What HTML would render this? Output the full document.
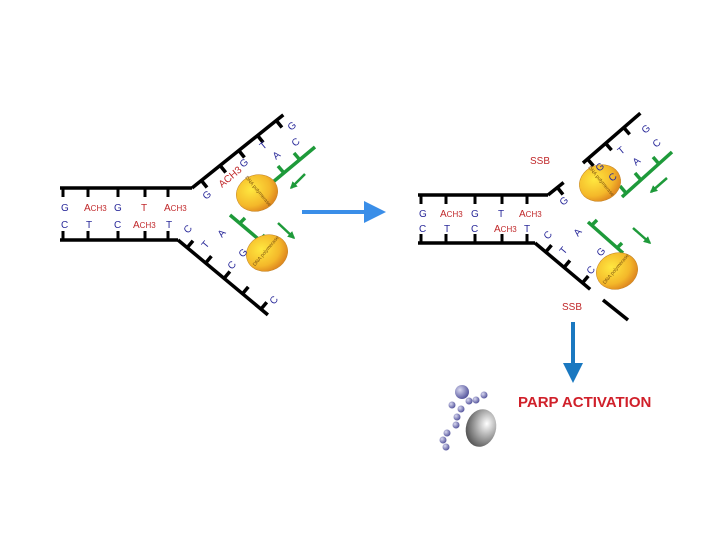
<!DOCTYPE html>
<html><head><meta charset="utf-8"><style>
html,body{margin:0;padding:0;background:#fff;width:720px;height:540px;overflow:hidden}
svg{display:block}
text{font-family:"Liberation Sans",sans-serif}
.b{fill:#2a2a9a;font-size:10px}
.r{fill:#c0282a;font-size:10px}
</style></head><body>
<svg width="720" height="540" viewBox="0 0 720 540">
<defs>
<radialGradient id="el" cx="40%" cy="35%" r="65%"><stop offset="0" stop-color="#ffe840"/><stop offset="0.7" stop-color="#f4b82a"/><stop offset="1" stop-color="#e08a20"/></radialGradient>
<radialGradient id="sp" cx="35%" cy="35%" r="65%"><stop offset="0" stop-color="#d8d8f0"/><stop offset="1" stop-color="#5a5aa0"/></radialGradient>
<radialGradient id="gr" cx="65%" cy="35%" r="70%"><stop offset="0" stop-color="#fff"/><stop offset="1" stop-color="#555"/></radialGradient>
<marker id="ga" viewBox="0 0 10 10" refX="8" refY="5" markerWidth="3" markerHeight="3" orient="auto"><path d="M0 0L10 5L0 10Z" fill="#1e9a3a"/></marker>
</defs>
<g stroke="#000" stroke-width="3.5" fill="none">
<path d="M60 188H192M60 240H178"/>
<path d="M63 188v9M88 188v9M118 188v9M145 188v9M168 188v9M63 240v-9M88 240v-9M118 240v-9M145 240v-9M168 240v-9" stroke-width="3"/>
<g transform="translate(192,188) rotate(-38.7)"><path d="M0 0H117M12 0v9M36 0v9M60 0v9M84 0v9M108 0v9" /></g>
<g transform="translate(178,240) rotate(39.8)"><path d="M0 0H117M12 0v-9M36 0v-9M60 0v-9M84 0v-9M108 0v-9"/></g>
<path d="M418 195H548M418 243H535"/>
<path d="M421 195v9M446 195v9M475 195v9M502 195v9M527 195v9M421 243v-9M446 243v-9M475 243v-9M502 243v-9M527 243v-9" stroke-width="3"/>
<g transform="translate(548,195) rotate(-38.7)"><path d="M0 0H20M12 0v9"/></g>
<g transform="translate(583,163) rotate(-41)"><path d="M0 0H76M6 0v9M30 0v9M54 0v9"/></g>
<g transform="translate(535,243) rotate(40)"><path d="M0 0H72M14 0v-9M38 0v-9M62 0v-9"/></g>
<path d="M603 300L628 320"/>
</g>
<g fill="none" stroke="#1e9a3a" stroke-width="3.5">
<path d="M315 147L267 187M300 160l-6-7M284 173l-6-7M270 185l-6-7"/>
<path d="M230 215L263 243M240 223l5-5M260 240l5-5" />
<path d="M672 152L622 197M659 164l-6-7M641 180l-6-7M626 193l-6-7"/>
<path d="M588 222L623 253M592 225l5-5M617 248l5-5"/>
</g>
<g stroke="#1e9a3a" stroke-width="2.5" marker-end="url(#ga)">
<path d="M305 174L291 188"/><path d="M278 223L294 238"/>
<path d="M667 178L651 192"/><path d="M633 228L650 243"/>
</g>
<g stroke="#c08020" stroke-width="0.5">
<ellipse cx="257" cy="193" rx="21" ry="18" transform="rotate(-20 257 193)" fill="url(#el)"/>
<ellipse cx="267" cy="253" rx="21" ry="18" transform="rotate(-20 267 253)" fill="url(#el)"/>
<ellipse cx="600" cy="183" rx="21" ry="18" transform="rotate(-20 600 183)" fill="url(#el)"/>
<ellipse cx="617" cy="271" rx="21" ry="18" transform="rotate(-20 617 271)" fill="url(#el)"/>
</g>
<g font-size="5" fill="#7a5010" text-anchor="middle">
<text x="257" y="192" transform="rotate(50 257 192)">DNA polymerase</text>
<text x="267" y="252" transform="rotate(-50 267 252)">DNA polymerase</text>
<text x="600" y="182" transform="rotate(50 600 182)">DNA polymerase</text>
<text x="617" y="270" transform="rotate(-50 617 270)">DNA polymerase</text>
</g>
<text class="b" x="61" y="211">G</text><text class="r" x="84" y="211">A<tspan font-size="8">CH3</tspan></text><text class="b" x="114" y="211">G</text><text class="r" x="141" y="211">T</text><text class="r" x="164" y="211">A<tspan font-size="8">CH3</tspan></text>
<text class="b" x="61" y="228">C</text><text class="b" x="86" y="228">T</text><text class="b" x="114" y="228">C</text><text class="r" x="133" y="228">A<tspan font-size="8">CH3</tspan></text><text class="b" x="166" y="228">T</text>
<text class="b" x="206" y="200" transform="rotate(-40 206 200)">G</text>
<text class="r" x="222" y="188" transform="rotate(-40 222 188)">ACH3</text>
<text class="b" x="243" y="168" transform="rotate(-40 243 168)">G</text>
<text class="b" x="263" y="150" transform="rotate(-40 263 150)">T</text>
<text class="b" x="276" y="160" transform="rotate(-40 276 160)">A</text>
<text class="b" x="291" y="131" transform="rotate(-40 291 131)">G</text>
<text class="b" x="295" y="147" transform="rotate(-40 295 147)">C</text>
<text class="b" x="188" y="234" transform="rotate(-50 188 234)">C</text>
<text class="b" x="206" y="249" transform="rotate(-50 206 249)">T</text>
<text class="b" x="222" y="238" transform="rotate(-50 222 238)">A</text>
<text class="b" x="243" y="258" transform="rotate(-50 243 258)">G</text>
<text class="b" x="232" y="270" transform="rotate(-50 232 270)">C</text>
<text class="b" x="274" y="305" transform="rotate(-50 274 305)">C</text>
<text class="b" x="419" y="217">G</text><text class="r" x="440" y="217">A<tspan font-size="8">CH3</tspan></text><text class="b" x="471" y="217">G</text><text class="b" x="498" y="217">T</text><text class="r" x="519" y="217">A<tspan font-size="8">CH3</tspan></text>
<text class="b" x="419" y="232">C</text><text class="b" x="444" y="232">T</text><text class="b" x="471" y="232">C</text><text class="r" x="494" y="232">A<tspan font-size="8">CH3</tspan></text><text class="b" x="524" y="232">T</text>
<text class="b" x="563" y="206" transform="rotate(-40 563 206)">G</text>
<text class="b" x="599" y="172" transform="rotate(-40 599 172)">G</text>
<text class="b" x="612" y="182" transform="rotate(-40 612 182)">C</text>
<text class="b" x="621" y="155" transform="rotate(-40 621 155)">T</text>
<text class="b" x="636" y="166" transform="rotate(-40 636 166)">A</text>
<text class="b" x="645" y="134" transform="rotate(-40 645 134)">G</text>
<text class="b" x="656" y="148" transform="rotate(-40 656 148)">C</text>
<text class="b" x="548" y="240" transform="rotate(-50 548 240)">C</text>
<text class="b" x="564" y="255" transform="rotate(-50 564 255)">T</text>
<text class="b" x="578" y="237" transform="rotate(-50 578 237)">A</text>
<text class="b" x="601" y="257" transform="rotate(-50 601 257)">G</text>
<text class="b" x="591" y="275" transform="rotate(-50 591 275)">C</text>
<text x="530" y="164" fill="#c0282a" font-size="10">SSB</text>
<text x="562" y="310" fill="#c0282a" font-size="10">SSB</text>
<path d="M302 212H366" stroke="#3a8ee8" stroke-width="4"/>
<path d="M364 201L386 212L364 223Z" fill="#3a8ee8"/>
<path d="M573 322V366" stroke="#1a78c0" stroke-width="4"/>
<path d="M563 363H583L573 383Z" fill="#1a78c0"/>
<text x="518" y="407" fill="#d0202a" font-size="15" font-weight="bold">PARP ACTIVATION</text>
<ellipse cx="481" cy="428" rx="15" ry="19" transform="rotate(15 481 428)" fill="url(#gr)"/>
<circle cx="462" cy="392" r="7" fill="url(#sp)"/>
<g fill="url(#sp)"><circle cx="469" cy="401" r="3.5"/><circle cx="476" cy="400" r="3.5"/><circle cx="484" cy="395" r="3.5"/><circle cx="452" cy="405" r="3.5"/><circle cx="461" cy="409" r="3.5"/><circle cx="457" cy="417" r="3.5"/><circle cx="456" cy="425" r="3.5"/><circle cx="447" cy="433" r="3.5"/><circle cx="443" cy="440" r="3.5"/><circle cx="446" cy="447" r="3.5"/></g>
</svg>
</body></html>
